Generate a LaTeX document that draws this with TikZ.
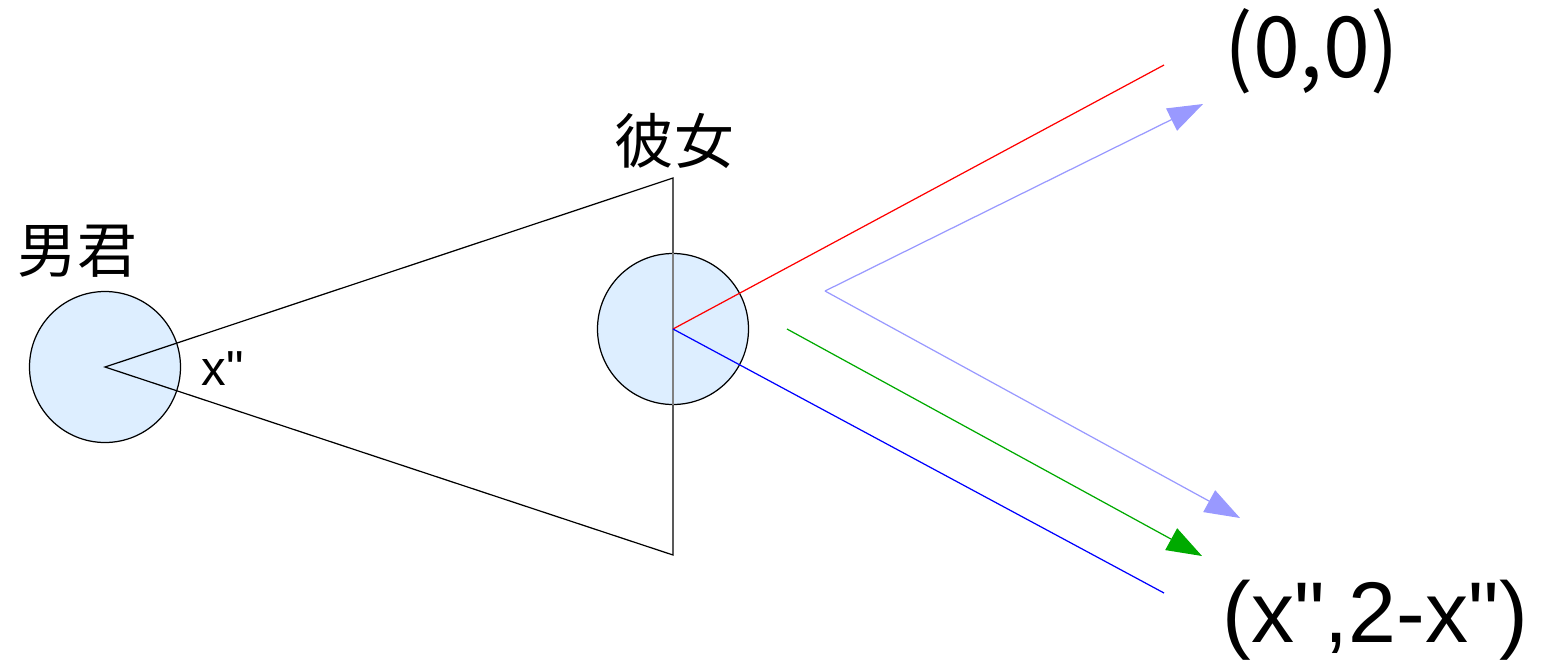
\documentclass[tikz,border=0pt]{standalone}
\usepackage{fontspec}
\setmainfont{Liberation Sans}[Ligatures=TeXOff]
\newfontfamily\cjk{Noto Sans CJK JP}[Ligatures=TeXOff]
\usetikzlibrary{arrows.meta}
\definecolor{headfill}{RGB}{221,238,255}
\definecolor{paleblue}{RGB}{153,153,255}
\definecolor{gazegreen}{RGB}{0,170,0}

\begin{document}
\begin{tikzpicture}[x=0.1mm, y=-0.1mm, line width=0.35pt,
    >={Triangle[length=10pt, width=7pt]},
    head/.style={circle, draw, fill=headfill, minimum size=15.1mm, inner sep=0pt},
    lbl/.style={inner sep=0pt, anchor=base west}]
  \useasboundingbox (0,0) rectangle (1549,660);
  % the boy and his view cone
  \node[head] (otoko) at (105,367) {};
  \coordinate (top) at (673,178);
  \coordinate (bot) at (673,555);
  \draw (otoko.center) -- (top) -- (bot) -- cycle;
  % the girl, sitting on the far edge (edge shows through)
  \node[head] (kanojo) at (673,329) {};
  \draw[black!50] (kanojo.north) -- (kanojo.south);
  % her two lines of sight
  \coordinate (redend) at (1164,65);
  \coordinate (blueend) at (1164,593);
  \draw[red] (kanojo.center) -- (redend);
  \draw[blue] (kanojo.center) -- (blueend);
  % reflected directions
  \coordinate (bend) at (825,291);
  \coordinate (uptip) at (1203,104);
  \coordinate (downtip) at (1240,518);
  \draw[->, paleblue] (bend) -- (uptip);
  \draw[->, paleblue] (bend) -- (downtip);
  \coordinate (gstart) at (787,329);
  \coordinate (gtip) at (1202,556);
  \draw[->, gazegreen] (gstart) -- (gtip);
  % labels
  \node[inner sep=0pt, font=\cjk\fontsize{17pt}{20pt}\selectfont] (lblOtoko) at (77,251) {男君};
  \node[inner sep=0pt, font=\cjk\fontsize{17pt}{20pt}\selectfont] (lblKanojo) at (674,141) {彼女};
  \node[lbl, font=\fontsize{14pt}{16pt}\selectfont] (lblX) at (201,385) {x"};
  \node[lbl, font=\cjk\fontsize{24pt}{28pt}\selectfont] (lblOrigin) at (1224,77) {(0,0)};
  \node[lbl, font=\fontsize{24.5pt}{28pt}\selectfont] (lblTarget) at (1222,642) {(x",2-x")};
\end{tikzpicture}
\end{document}
